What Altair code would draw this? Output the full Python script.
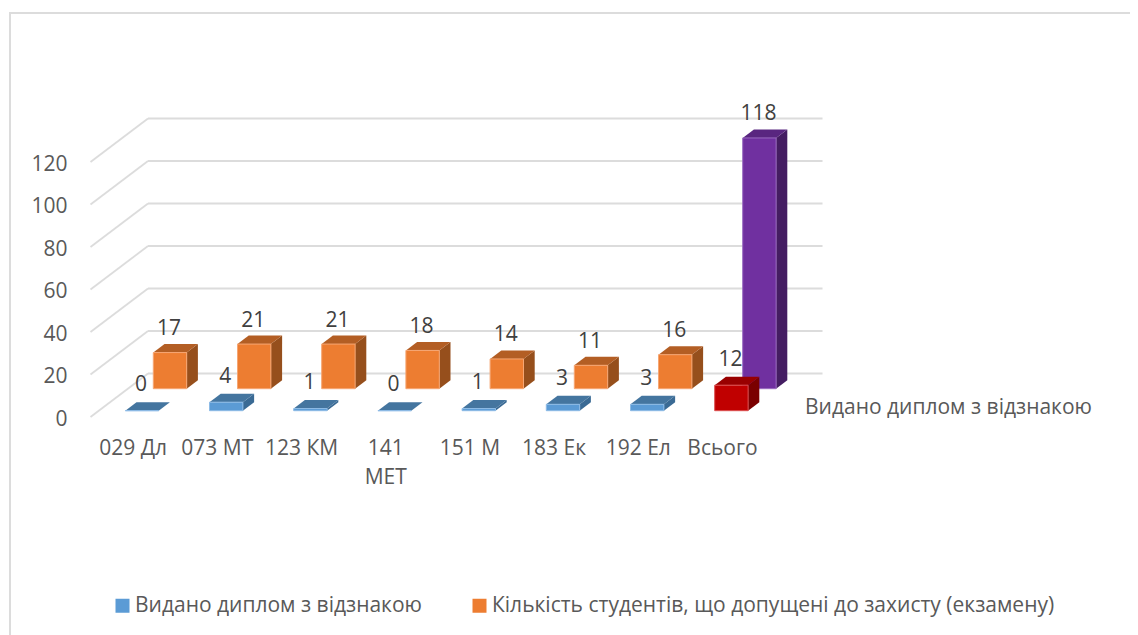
import altair as alt
import pandas as pd

categories = ["029 Дл", "073 МТ", "123 КМ", "141\nМЕТ", "151 М", "183 Ек", "192 Ел", "Всього"]
honours = [0, 4, 1, 0, 1, 3, 3, 12]
admitted = [17, 21, 21, 18, 14, 11, 16, 118]
series_names = ["Видано диплом з відзнакою", "Кількість студентів, що допущені до захисту (екзамену)"]
y_ticks = [0, 20, 40, 60, 80, 100, 120]

FONT = "Open Sans"
FS = 21
TXT = "#595959"
GRID = "#dcdcdc"

W, H = 1122, 627
PITCH = 84.2      # px per category
PXV = 2.125       # px per value unit
X0 = 82.5         # chart px of category origin
Y0 = 409.0        # chart px of value 0
x_dom = [-X0 / PITCH, (W - X0) / PITCH]
y_dom = [-(H - Y0) / PXV, Y0 / PXV]

floor_du = 57.5 / PITCH
floor_dv = 43.5 / PXV
bar_w = 33.4 / PITCH
bar_du = 11.2 / PITCH
bar_dv = 8.5 / PXV
grid_end = (822.5 - 90.5) / PITCH

rows = [
    dict(vals=admitted, series=series_names[1], start=(153.3 - 90.5) / PITCH, base=28.3 / PXV,
         front="#ED7D31", top="#B35E24", side="#964F1C", edge="#F6A673",
         tfront="#7030A0", ttop="#592680", tside="#441D62", tedge="#9A6CC0", dy=-15),
    dict(vals=honours, series=series_names[0], start=(125.3 - 90.5) / PITCH, base=6.3 / PXV,
         front="#5B9BD5", top="#44759F", side="#3A6A94", edge="#8DBBE6",
         tfront="#C00000", ttop="#990000", tside="#7A0000", tedge="#DD5050", dy=-17),
]

sx = alt.Scale(domain=x_dom, range=[0, W], nice=False, zero=False)
sy = alt.Scale(domain=y_dom, range=[H, 0], nice=False, zero=False)


def X(f, **k):
    return alt.X(f, type="quantitative", scale=sx, title=None, **k)


def Y(f, **k):
    return alt.Y(f, type="quantitative", scale=sy, title=None, stack=None, **k)


# walls
grid_back = pd.DataFrame([dict(u=floor_du, u2=grid_end, v=t + floor_dv) for t in y_ticks])
grid_side = pd.DataFrame([dict(u=0.0, u2=floor_du, v=float(t), v2=t + floor_dv) for t in y_ticks])
frame_v = pd.DataFrame([dict(u=x_dom[0] + 2 / PITCH, v=y_dom[0], v2=y_dom[1] - 5 / PXV)])
frame_h = pd.DataFrame([dict(u=x_dom[0] + 1 / PITCH, u2=x_dom[1], v=y_dom[1] - 5 / PXV)])

label_expr = "split(" + str(categories).replace("\\n", "|") + "[round(datum.value - 0.5)], '|')"

axes_layer = alt.Chart(grid_back).mark_rule(color=GRID, strokeWidth=1.8).encode(
    x=X("u", axis=alt.Axis(
        values=[i + 0.5 for i in range(len(categories))], labelExpr=label_expr,
        domain=False, ticks=False, grid=False, labelPadding=0, offset=-(H - 429),
        labelFont=FONT, labelFontSize=FS, labelColor=TXT, labelAngle=0,
        labelLineHeight=29, labelOverlap=False, labelBaseline="top", labelFlush=False)),
    x2="u2:Q",
    y=Y("v", axis=alt.Axis(
        values=y_ticks, domain=False, ticks=False, grid=False, labelPadding=0, offset=-59,
        labelFont=FONT, labelFontSize=FS, labelColor=TXT, labelOffset=2,
        labelOverlap=False, labelFlush=False)),
)
diag = alt.Chart(grid_side).mark_rule(color=GRID, strokeWidth=1.8).encode(
    x=X("u"), x2="u2:Q", y=Y("v"), y2="v2:Q")
fr_v = alt.Chart(frame_v).mark_rule(color=GRID, strokeWidth=2).encode(x=X("u"), y=Y("v"), y2="v2:Q")
fr_h = alt.Chart(frame_h).mark_rule(color=GRID, strokeWidth=2).encode(x=X("u"), x2="u2:Q", y=Y("v"))

color_scale = alt.Scale(domain=series_names, range=[rows[1]["front"], rows[0]["front"]])
legend = alt.Legend(
    title=None, orient="none", legendX=104, legendY=587, direction="horizontal", columns=2,
    symbolType="square", symbolSize=196, symbolStrokeWidth=0, labelFont=FONT, labelFontSize=FS,
    labelColor=TXT, columnPadding=46, labelOffset=2, padding=0, labelLimit=700,
)

layers = [axes_layer, fr_v, fr_h, diag]
text_layers = []
for r in rows:
    fronts, faces, labels = [], [], []
    for i, val in enumerate(r["vals"]):
        total = categories[i] == "Всього"
        u0 = i + r["start"]
        u1 = u0 + bar_w
        b = r["base"]
        t = b + val
        fronts.append(dict(u=u0, u2=u1, v=b, v2=t, series=r["series"], total=total,
                           col=r["tfront"] if total else r["front"],
                           edge=r["tedge"] if total else r["edge"]))
        side_c = r["tside"] if total else r["side"]
        top_c = r["ttop"] if total else r["top"]
        faces += [
            dict(id=f"s{i}", u=u1, v=t, v2=b, col=side_c),
            dict(id=f"s{i}", u=u1 + bar_du, v=t + bar_dv, v2=b + bar_dv, col=side_c),
            dict(id=f"t{i}", u=u0, v=t, v2=t, col=top_c),
            dict(id=f"t{i}", u=u0 + bar_du, v=t + bar_dv, v2=t, col=top_c),
            dict(id=f"t{i}", u=u1, v=t + bar_dv, v2=t, col=top_c),
            dict(id=f"t{i}", u=u1 + bar_du, v=t + bar_dv, v2=t + bar_dv, col=top_c),
        ]
        labels.append(dict(u=(u0 + u1) / 2 - 1 / PITCH, v=t + bar_dv, txt=str(val)))
    fdf = pd.DataFrame(fronts)
    faces_df = pd.DataFrame(faces)
    layers.append(alt.Chart(faces_df).mark_area(opacity=1).encode(
        x=X("u"), y=Y("v"), y2="v2:Q", fill=alt.Fill("col:N", scale=None), detail="id:N"))
    layers.append(alt.Chart(fdf[~fdf.total]).mark_bar(strokeWidth=1).encode(
        x=X("u"), x2="u2:Q", y=Y("v"), y2="v2:Q",
        color=alt.Color("series:N", scale=color_scale, legend=legend),
        stroke=alt.Stroke("edge:N", scale=None)))
    layers.append(alt.Chart(fdf[fdf.total]).mark_bar(strokeWidth=1).encode(
        x=X("u"), x2="u2:Q", y=Y("v"), y2="v2:Q",
        fill=alt.Fill("col:N", scale=None), stroke=alt.Stroke("edge:N", scale=None)))
    text_layers.append(alt.Chart(pd.DataFrame(labels)).mark_text(
        font=FONT, fontSize=FS, color="#404040", dy=r["dy"], baseline="middle").encode(
        x=X("u"), y=Y("v"), text="txt:N"))

depth_label = alt.Chart(pd.DataFrame([dict(
    u=(805 - 90.5) / PITCH, v=9.5 / PXV, txt=series_names[0])])).mark_text(
    font=FONT, fontSize=FS, color=TXT, align="left", baseline="middle").encode(
    x=X("u"), y=Y("v"), text="txt:N")

chart = alt.layer(*layers, *text_layers, depth_label).properties(
    width=W, height=H, padding=0, autosize=alt.AutoSizeParams(type="none"),
    background="white",
).configure_view(stroke=None)

chart.save("out.html", embed_options={"renderer": "svg", "actions": False})
